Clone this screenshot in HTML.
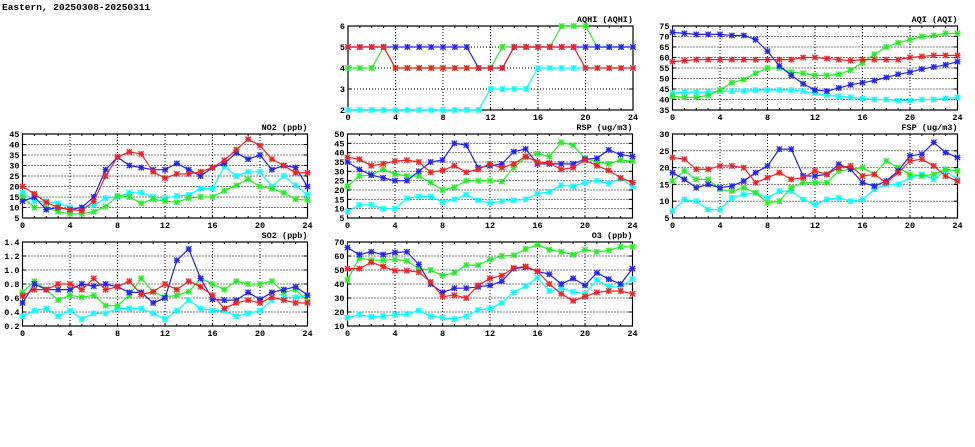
<!DOCTYPE html>
<html><head><meta charset="utf-8"><style>
body{margin:0;background:#fff;}
svg{display:block;font-family:"Liberation Mono","DejaVu Sans Mono",monospace;font-weight:bold;}
</style></head><body>
<svg id="c" width="975" height="447">
<text x="2" y="10" font-size="9.5">Eastern, 20250308-20250311</text>
</svg>
<script>
const hours = [0,1,2,3,4,5,6,7,8,9,10,11,12,13,14,15,16,17,18,19,20,21,22,23,24];
const xTicks = [0,4,8,12,16,20,24];
const seriesColors = ['#00ffff','#22ee22','#2222ee','#ee2222'];

const aqhiCyan  = [2,2,2,2,2,2,2,2,2,2,2,2,3,3,3,3,4,4,4,4,4,4,4,4,4];
const aqhiGreen = [4,4,4,5,4,4,4,4,4,4,4,4,4,5,5,5,5,5,6,6,6,5,5,5,5];
const aqhiBlue  = [5,5,5,5,5,5,5,5,5,5,5,4,4,4,5,5,5,5,5,5,5,5,5,5,5];
const aqhiRed   = [5,5,5,5,4,4,4,4,4,4,4,4,4,4,5,5,5,5,5,5,4,4,4,4,4];
const aqhiTicks = [2,3,4,5,6];

const aqiCyan  = [43,43.5,43.5,43.5,44,44,44,44.5,44.5,44.5,44.5,44,43,42,41.5,41,40.5,40,40,39.5,39.5,40,40,40.5,41];
const aqiGreen = [41.5,41,41,42,44.5,48,49.5,52.5,55,55,53,52.5,51.5,51.5,52,54,57.5,61.5,65,67,68.5,70,70.5,71.5,71.5];
const aqiBlue  = [72,71.5,71,71,71,70.5,70.5,68.5,63,56,51.5,47.5,44.5,44,45.5,47,48,49,50.5,52,53,54.5,55.5,56.5,58];
const aqiRed   = [58,58.5,59,59,59,59,59,59,59,59,59,60,60,59.5,59,58.5,59,59,59,59,60,60.5,61,61,61];
const aqiTicks = [35,40,45,50,55,60,65,70,75];

const no2Cyan  = [17,13,13,12,10,10,11,14.5,15,17,17,15,14.5,15.5,16,19,19,29.5,25,27,27,20,25,20.5,16];
const no2Green = [15,10,10,8,7,7,8,10.5,15.5,15,12,14,13,12.5,14.5,15,15,18,20.5,23.5,20,19,17,14,13.5];
const no2Blue  = [13,15,9,10,9,10,15,28,34,30,29,28,28,31,28,25,29,31,36,33,35,28,30,29,20];
const no2Red   = [20,16.5,12.5,10,9,8.5,13,25,34,36.5,35.5,27,24,26,26,27,29,32.5,37.5,42.5,39.5,33,30,26.5,26.5];
const no2Ticks = [5,10,15,20,25,30,35,40,45];

const rspCyan  = [8.5,12,12,10,10,15.5,16.5,16.5,13.5,15,17.5,14.5,13,14,14.5,15,18,19,22.5,22,24,25,23.5,26,22];
const rspGreen = [22,27.5,28,31,28.5,27.5,27.5,24,20,21.5,25,25,25,24.5,32,37.5,39.5,38,45.5,44,37,35,34,36,35.5];
const rspBlue  = [35,31,28,26.5,25,25,30,35,36,45,44,32,33,34,40.5,42,34,34,34,34,36.5,37,41.5,39,38];
const rspRed   = [37.5,36.5,33,34,35.5,36,35,29.5,30.5,33,29.5,31,34,32,34,38,35,34.5,31,32,36,33,30.5,26.5,24];
const rspTicks = [5,10,15,20,25,30,35,40,45,50];

const fspCyan  = [7,10.5,10,7.5,7.5,11,12,12.5,11,13,13,10.5,9,10.5,11,10,10.5,13.5,15,15,17,18,16.5,19,16.5];
const fspGreen = [16,19,16.5,16.5,13.5,13,14,12.5,9.5,10,14,15.5,15.5,15.5,19,19.5,20,18,22,20,18,17.5,18,19.5,19];
const fspBlue  = [18.5,16.5,14,15,14,14.5,16,18.5,20.5,25.5,25.5,17.5,17.5,18,21,19.5,15.5,14.5,16,19,23.5,24,27.5,24.5,23];
const fspRed   = [23,22.5,19.5,19.5,20.5,20.5,20,15.5,17,18.5,16.5,17,19,18,20,20.5,17.5,18,15.5,18.5,22,22.5,20.5,17.5,16];
const fspTicks = [5,10,15,20,25,30];

const so2Cyan  = [0.34,0.42,0.45,0.34,0.42,0.3,0.38,0.38,0.45,0.45,0.45,0.38,0.3,0.42,0.57,0.45,0.42,0.42,0.34,0.38,0.42,0.57,0.61,0.61,0.64];
const so2Green = [0.68,0.84,0.72,0.57,0.64,0.61,0.64,0.49,0.49,0.64,0.88,0.69,0.61,0.64,0.69,0.88,0.8,0.72,0.84,0.8,0.8,0.84,0.68,0.72,0.55];
const so2Blue  = [0.53,0.8,0.72,0.72,0.72,0.8,0.77,0.8,0.76,0.68,0.68,0.53,0.6,1.14,1.3,0.88,0.58,0.57,0.57,0.68,0.58,0.68,0.72,0.76,0.64];
const so2Red   = [0.63,0.72,0.72,0.8,0.8,0.72,0.88,0.72,0.76,0.84,0.65,0.69,0.8,0.72,0.84,0.76,0.64,0.45,0.53,0.57,0.53,0.61,0.57,0.53,0.53];
const so2Ticks = ['0.2','0.4','0.6','0.8','1.0','1.2','1.4'];

const o3Cyan  = [16,18,16.5,17,18,18.5,21,17,16,15,17,21.5,22.5,26.5,34,38.5,44.5,35,37,34.5,33,43,38,38,43.5];
const o3Green = [43,58.5,57,57,57.5,56.5,51,50,46,48,53.5,53.5,57.5,60,60.5,65,68,64.5,63,61,64.5,63,64,66.5,66.5];
const o3Blue  = [66,61,63,61,62.5,63,54,40,34,37,37,38,39,42,51,52,49,47,40,44,39,48,43.5,40,51];
const o3Red   = [51,51,55.5,52.5,49.5,49.5,48.5,41.5,31,32,30,39,44,46,51.5,52.5,49,40,33,28,31,34,35,35,33];
const o3Ticks = [10,20,30,40,50,60,70];

const NS='http://www.w3.org/2000/svg';
const svg=document.getElementById('c');
function mk(tag,attrs,parent){const e=document.createElementNS(NS,tag);for(const k in attrs)e.setAttribute(k,attrs[k]);(parent||svg).appendChild(e);return e;}

function panel(name,title,L,T,yTicks,series){
  const W=285,H=84;
  const g=mk('g',{});
  
  
  const ymin=+yTicks[0], ymax=+yTicks[yTicks.length-1];
  const sx=v=>L+v/24*W;
  const sy=v=>T+H-(v-ymin)/(ymax-ymin)*H;
  yTicks.forEach(t=>{
    const y=sy(+t);
    if(+t!==ymin && +t!==ymax){
      const gl=mk('line',{x1:L,x2:L+W,y1:y,y2:y,stroke:'#000','stroke-width':1,'stroke-dasharray':'1,2'},g);
      
      
    }
    mk('line',{x1:L,x2:L+4,y1:y,y2:y,stroke:'#000'},g);
    mk('line',{x1:L+W-4,x2:L+W,y1:y,y2:y,stroke:'#000'},g);
    const tx=mk('text',{x:L-3,y:y+3,'font-size':8.5,'text-anchor':'end'},g);
    tx.textContent=t;
    
    
  });
  hours.forEach(h=>{const x=sx(h);mk('line',{x1:x,x2:x,y1:T+H,y2:T+H-2,stroke:'#000'},g);mk('line',{x1:x,x2:x,y1:T,y2:T+2,stroke:'#000'},g);});
  xTicks.forEach(t=>{
    const x=sx(t);
    if(t!==0&&t!==24){
      const gl=mk('line',{x1:x,x2:x,y1:T,y2:T+H,stroke:'#000','stroke-width':1,'stroke-dasharray':'1,2'},g);
      
      
    }
    const tx=mk('text',{x:x,y:T+H+10,'font-size':8.5,'text-anchor':'middle'},g);
    tx.textContent=t;
    
    
  });
  const fr=mk('rect',{x:L,y:T,width:W,height:H,fill:'none',stroke:'#000','stroke-width':1.2},g);
  
  
  const tt=mk('text',{x:L+W,y:T-4,'font-size':8.5,'text-anchor':'end'},g);
  tt.textContent=title;
  
  
  series.forEach((vals,i)=>{
    const col=seriesColors[i];
    const pts=vals.map((v,h)=>sx(hours[h])+','+sy(v)).join(' ');
    const pl=mk('polyline',{points:pts,fill:'none',stroke:col,'stroke-width':1.2},g);
    
    
    vals.forEach((v,h)=>{
      const x=sx(hours[h]),y=sy(v);
      const m=mk('g',{},g);
      
      
      mk('rect',{x:x-2.5,y:y-2.5,width:5,height:5,fill:col,opacity:0.35},m);
      mk('path',{d:`M${x-2.7} ${y-2.7}L${x+2.7} ${y+2.7}M${x-2.7} ${y+2.7}L${x+2.7} ${y-2.7}M${x} ${y-3}V${y+3}M${x-3} ${y}H${x+3}`,stroke:col,'stroke-width':1.1},m);
    });
  });
}
panel('aqhi','AQHI (AQHI)',348,26,aqhiTicks,[aqhiCyan,aqhiGreen,aqhiBlue,aqhiRed]);
panel('aqi','AQI (AQI)',672.5,26,aqiTicks,[aqiCyan,aqiGreen,aqiBlue,aqiRed]);
panel('no2','NO2 (ppb)',22.5,134,no2Ticks,[no2Cyan,no2Green,no2Blue,no2Red]);
panel('rsp','RSP (ug/m3)',347.5,134,rspTicks,[rspCyan,rspGreen,rspBlue,rspRed]);
panel('fsp','FSP (ug/m3)',672.5,134,fspTicks,[fspCyan,fspGreen,fspBlue,fspRed]);
panel('so2','SO2 (ppb)',22.5,242,so2Ticks,[so2Cyan,so2Green,so2Blue,so2Red]);
panel('o3','O3 (ppb)',347.5,242,o3Ticks,[o3Cyan,o3Green,o3Blue,o3Red]);
</script>
</body></html>
